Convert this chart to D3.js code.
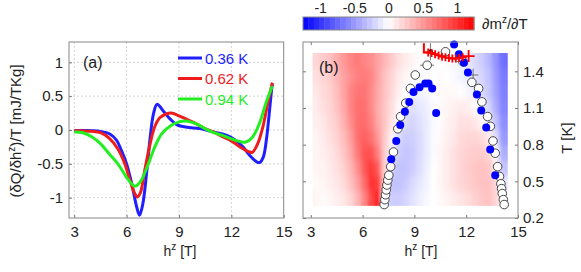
<!DOCTYPE html>
<html lang="en">
<head>
  <meta charset="UTF-8" />
  <title>Magnetocaloric panels</title>
  <script src="https://d3js.org/d3.v7.min.js"></script>
  <style>
    body { margin: 0; background: #fff; }
    text { font-family: "Liberation Sans", Arial, sans-serif; fill: #222; }
    .tick line { stroke: #777; }
    .domain { display: none; }
    .grid { stroke: #d4d4d4; stroke-dasharray: 2,2; stroke-width: 1; }
    .frame { fill: none; stroke: #888; stroke-width: 1; }
  </style>
</head>
<body>
  <svg id="chart" width="581" height="272"></svg>

  <script>
    // ---- panel (a): field derivative of heat, three temperatures ----
    const hTicks = [3, 6, 9, 12, 15];
    const qTicks = [-1, -0.5, 0, 0.5, 1];
    const curveLabels = ["0.36 K", "0.62 K", "0.94 K"];
    const curveColors = ["#1f1fff", "#ee1c1c", "#22ee22"];

    const blue036 = [[3,-0.01],[4,-0.01],[4.5,-0.02],[5.04,-0.06],[5.42,-0.15],[5.7,-0.3],[6.0,-0.5],[6.3,-0.8],
      [6.58,-1.14],[6.74,-1.26],[6.93,-1.09],[7.16,-0.6],[7.35,-0.11],[7.54,0.24],[7.75,0.38],[8.1,0.28],[8.5,0.16],
      [8.87,0.08],[9.45,0.04],[10.2,0.02],[10.97,-0.03],[11.74,-0.08],[12.3,-0.16],[12.7,-0.26],[13.07,-0.38],
      [13.45,-0.47],[13.62,-0.48],[13.83,-0.4],[14.0,-0.16],[14.17,0.24],[14.3,0.58],[14.35,0.68]];
    const red062 = [[3,-0.01],[4,-0.02],[4.5,-0.04],[5,-0.12],[5.5,-0.28],[5.9,-0.5],[6.2,-0.75],[6.45,-0.93],
      [6.62,-0.99],[6.8,-0.92],[7.0,-0.65],[7.3,-0.26],[7.6,0.04],[7.9,0.18],[8.3,0.24],[8.55,0.25],[9,0.21],
      [9.5,0.15],[10,0.09],[10.5,0.02],[11,-0.03],[11.5,-0.1],[12,-0.16],[12.5,-0.25],[13,-0.32],[13.2,-0.33],
      [13.5,-0.21],[13.8,0.04],[14.1,0.41],[14.35,0.7]];
    const green094 = [[3,-0.03],[3.5,-0.04],[4,-0.1],[4.5,-0.2],[5,-0.35],[5.5,-0.5],[6,-0.7],[6.3,-0.8],
      [6.5,-0.83],[6.8,-0.76],[7.2,-0.53],[7.6,-0.26],[8,-0.06],[8.5,0.06],[9,0.12],[9.5,0.13],[10,0.09],
      [10.5,0.02],[11,-0.04],[11.5,-0.08],[12,-0.13],[12.5,-0.17],[12.8,-0.18],[13.2,-0.11],[13.6,0.09],
      [14,0.41],[14.35,0.65]];

    // ---- panel (b): dm/dT map with phase boundary points ----
    const tTicks = [0.2, 0.5, 0.8, 1.1, 1.4];
    const cbTicks = [-1, -0.5, 0, 0.5, 1];
    const hBins = [3.1,3.5,3.9,4.3,4.7,5.1,5.5,5.9,6.3,6.7,7.1,7.5,7.9,8.3,8.7,9.1,9.5,9.9,10.3,10.7,11.1,11.5,11.9,12.3,12.7,13.1,13.5,13.9,14.4];
    const tBins = [0.3,0.425,0.55,0.675,0.8,0.925,1.05,1.175,1.3,1.425,1.55];
    // rows from lowest T upward, one value per h bin
    const dmdT = [
      [0.05,0.02,0.04,0.08,0.12,0.2,0.35,0.6,0.9,1.1,-0.1,-0.25,-0.25,-0.2,-0.14,-0.08,-0.04,0,0.03,0.06,0.1,0.13,0.17,0.22,0.27,0.3,0.22,0.0],
      [0.03,0.05,0.08,0.12,0.18,0.3,0.45,0.72,1.0,0.95,0.25,-0.3,-0.3,-0.26,-0.18,-0.12,-0.06,0,0.05,0.1,0.15,0.2,0.23,0.27,0.3,0.3,0.2,-0.12],
      [0.05,0.06,0.1,0.15,0.22,0.35,0.55,0.82,0.98,0.8,0.2,-0.22,-0.3,-0.3,-0.24,-0.16,-0.08,0,0.05,0.1,0.15,0.2,0.25,0.28,0.3,0.28,0.12,-0.28],
      [0.05,0.08,0.12,0.18,0.28,0.42,0.65,0.85,0.85,0.62,0.22,-0.08,-0.25,-0.28,-0.26,-0.18,-0.1,-0.02,0.05,0.1,0.15,0.2,0.23,0.25,0.25,0.2,0.0,-0.4],
      [0.05,0.1,0.15,0.22,0.32,0.48,0.7,0.78,0.7,0.5,0.25,0.05,-0.18,-0.25,-0.23,-0.18,-0.1,-0.02,0.03,0.08,0.12,0.18,0.2,0.2,0.18,0.1,-0.15,-0.5],
      [0.08,0.12,0.18,0.25,0.38,0.55,0.7,0.72,0.62,0.42,0.28,0.12,-0.05,-0.18,-0.2,-0.15,-0.1,-0.03,0.02,0.06,0.1,0.15,0.15,0.12,0.05,-0.08,-0.3,-0.55],
      [0.1,0.15,0.2,0.3,0.42,0.6,0.7,0.7,0.58,0.4,0.28,0.15,0.02,-0.1,-0.15,-0.12,-0.08,-0.02,0.02,0.05,0.08,0.1,0.08,0.02,-0.08,-0.2,-0.4,-0.6],
      [0.12,0.18,0.22,0.32,0.45,0.6,0.68,0.68,0.58,0.42,0.3,0.18,0.08,0,-0.06,-0.06,-0.04,0,0.02,0.03,0.03,0,-0.05,-0.1,-0.18,-0.28,-0.45,-0.62],
      [0.15,0.2,0.25,0.35,0.45,0.55,0.62,0.65,0.6,0.45,0.3,0.2,0.1,0.05,0,-0.02,-0.03,0,0.02,0,-0.03,-0.06,-0.1,-0.15,-0.2,-0.3,-0.48,-0.65],
      [0.2,0.25,0.3,0.4,0.5,0.6,0.65,0.6,0.55,0.45,0.35,0.25,0.15,0.1,0.05,0.02,0,0,0,-0.02,-0.05,-0.08,-0.12,-0.18,-0.25,-0.35,-0.52,-0.7]
    ];

    const openPts = [[7.25,0.31],[7.29,0.35],[7.33,0.39],[7.37,0.43],[7.41,0.47],[7.46,0.51],[7.52,0.55],
      [7.63,0.62],[7.79,0.74],[8.04,0.93],[8.2,1.03],[8.5,1.14],[8.77,1.26],[9.05,1.37],[9.74,1.45],[10.8,1.56],
      [11.81,1.48],[12.33,1.31],[12.72,1.26],[12.91,1.15],[13.24,1.03],[13.4,0.95],[13.55,0.83],[13.68,0.73],
      [13.82,0.62],[13.93,0.54],[14.01,0.48],[14.05,0.44],[14.09,0.4],[14.15,0.35],[14.2,0.31]];
    const bluePts = [[7.66,0.68],[7.95,0.83],[8.18,0.96],[8.45,1.07],[8.7,1.15],[8.95,1.23],[9.3,1.27],
      [9.63,1.3],[9.82,1.3],[10.03,1.26],[10.26,1.06],[11.3,1.62],[11.58,1.54],[11.87,1.47],[12.1,1.39],
      [12.62,1.21],[12.87,1.08],[13.16,0.94],[13.39,0.76],[13.68,0.55]];
    const redPlus = [[9.8,1.555],[10.0,1.55],[10.2,1.54],[10.4,1.53],[10.6,1.52],[10.8,1.515],[11.0,1.51],
      [11.2,1.505],[11.4,1.505],[11.6,1.51],[11.8,1.515],[12.14,1.525]];
    const redCorner = [[9.55,1.63],[9.55,1.555],[10.0,1.555]];
    const errBars = [[9.74,1.45,0.4,0],[9.93,1.56,0,0.07],[11.81,1.48,0.35,0.04],[12.4,1.37,0.3,0.05]];

    const svg = d3.select("#chart");
    const sup = (sel, base, s, rest) => {
      sel.text(base);
      sel.append("tspan").attr("dy", -6).attr("font-size", "10px").text(s);
      sel.append("tspan").attr("dy", 6).text(rest);
    };

    // ================= panel (a) =================
    const xA = d3.scaleLinear().domain([2.7, 15]).range([69, 283.7]);
    const yA = d3.scaleLinear().domain([-1.3, 1.3]).range([218, 42]);
    const gA = svg.append("g");

    gA.selectAll(".gx").data(hTicks.slice(0, -1)).enter().append("line")
      .attr("class", "grid")
      .attr("x1", d => xA(d)).attr("x2", d => xA(d))
      .attr("y1", yA.range()[1]).attr("y2", yA.range()[0]);
    gA.selectAll(".gy").data(qTicks).enter().append("line")
      .attr("class", "grid")
      .attr("x1", xA.range()[0]).attr("x2", xA.range()[1])
      .attr("y1", d => yA(d)).attr("y2", d => yA(d));

    gA.append("g").attr("transform", "translate(0,218)")
      .call(d3.axisBottom(xA).tickValues(hTicks).tickSize(-3).tickPadding(8).tickFormat(d => String(d)))
      .call(g => g.selectAll("text").attr("font-size", "15px"));
    gA.append("g").attr("transform", "translate(69,0)")
      .call(d3.axisLeft(yA).tickValues(qTicks).tickSize(-3).tickPadding(6).tickFormat(d => String(d)))
      .call(g => g.selectAll("text").attr("font-size", "15px"));

    const line = d3.line().x(d => xA(d[0])).y(d => yA(d[1])).curve(d3.curveCatmullRom.alpha(0.5));
    [blue036, red062, green094].forEach((c, i) => {
      gA.append("path").datum(c)
        .attr("fill", "none").attr("stroke", curveColors[i])
        .attr("stroke-width", 3).attr("stroke-linejoin", "round")
        .attr("d", line);
    });

    gA.append("rect").attr("class", "frame")
      .attr("x", 69).attr("y", 42).attr("width", 214.7).attr("height", 176);

    const leg = gA.selectAll(".leg").data(curveLabels).enter().append("g")
      .attr("transform", (d, i) => `translate(178,${58 + i * 20.5})`);
    leg.append("line").attr("x1", 0).attr("x2", 24)
      .attr("stroke", (d, i) => curveColors[i]).attr("stroke-width", 3);
    leg.append("text").attr("x", 27).attr("y", 5.5).attr("font-size", "15px")
      .style("fill", (d, i) => curveColors[i]).text(d => d);

    gA.append("text").attr("x", 83).attr("y", 68).attr("font-size", "16px").text("(a)");
    gA.append("text").attr("x", 180).attr("y", 256).attr("text-anchor", "middle")
      .attr("font-size", "14px").call(sup, "h", "z", " [T]");
    gA.append("text").attr("transform", "translate(21,131) rotate(-90)")
      .attr("text-anchor", "middle").attr("font-size", "15px")
      .call(sup, "(δQ/δh", "z", ")/T [mJ/TKg]");

    // ================= panel (b) =================
    const xB = d3.scaleLinear().domain([2.55, 15]).range([303, 518]);
    const yB = d3.scaleLinear().domain([0.2, 1.64]).range([218, 42]);
    const color = d3.scaleLinear().domain([-1.25, 0, 1.25])
      .range(["#0000ff", "#ffffff", "#ff0000"]).clamp(true);
    const gB = svg.append("g");

    const defs = svg.append("defs");
    defs.append("clipPath").attr("id", "mapClip").append("rect")
      .attr("x", xB(hBins[0])).attr("y", yB(tBins[tBins.length - 1]))
      .attr("width", xB(hBins[hBins.length - 1]) - xB(hBins[0]))
      .attr("height", yB(tBins[0]) - yB(tBins[tBins.length - 1]));
    defs.append("filter").attr("id", "soft").attr("x", "-10%").attr("y", "-10%")
      .attr("width", "120%").attr("height", "120%")
      .append("feGaussianBlur").attr("stdDeviation", "2 3.5");

    const cells = [];
    dmdT.forEach((row, j) => row.forEach((v, i) => cells.push({ i, j, v })));

    const drawCells = g => g.selectAll("rect").data(cells).enter().append("rect")
      .attr("x", d => xB(hBins[d.i]))
      .attr("y", d => yB(tBins[d.j + 1]))
      .attr("width", d => xB(hBins[d.i + 1]) - xB(hBins[d.i]) + 0.5)
      .attr("height", d => yB(tBins[d.j]) - yB(tBins[d.j + 1]) + 0.5)
      .attr("fill", d => color(d.v));

    const mapG = gB.append("g").attr("clip-path", "url(#mapClip)");
    mapG.append("g").call(drawCells);
    mapG.append("g").attr("filter", "url(#soft)").call(drawCells);

    gB.append("g").attr("transform", "translate(0,218)")
      .call(d3.axisBottom(xB).tickValues(hTicks).tickSize(-3).tickPadding(8).tickFormat(d => String(d)))
      .call(g => g.selectAll("text").attr("font-size", "15px"));
    gB.append("g").attr("transform", "translate(0,42)")
      .call(d3.axisTop(xB).tickValues(hTicks).tickSize(-3).tickFormat(""));
    gB.append("g").attr("transform", "translate(518,0)")
      .call(d3.axisRight(yB).tickValues(tTicks).tickSize(-3).tickPadding(5).tickFormat(d => String(d)))
      .call(g => g.selectAll("text").attr("font-size", "15px"));
    gB.append("g").attr("transform", "translate(303,0)")
      .call(d3.axisLeft(yB).tickValues(tTicks).tickSize(-3).tickFormat(""));

    gB.selectAll(".err").data(errBars).enter().append("path")
      .attr("fill", "none").attr("stroke", "#555").attr("stroke-width", 0.8)
      .attr("d", d => `M${xB(d[0] - d[2])},${yB(d[1])}H${xB(d[0] + d[2])}` +
                      `M${xB(d[0])},${yB(d[1] - d[3])}V${yB(d[1] + d[3])}`);

    gB.selectAll(".open").data(openPts).enter().append("circle")
      .attr("cx", d => xB(d[0])).attr("cy", d => yB(d[1])).attr("r", 4.3)
      .attr("fill", "#fff").attr("stroke", "#333").attr("stroke-width", 0.9);
    gB.selectAll(".bdot").data(bluePts).enter().append("circle")
      .attr("cx", d => xB(d[0])).attr("cy", d => yB(d[1])).attr("r", 4)
      .attr("fill", "#0000ff");

    gB.append("circle").attr("cx", xB(9.93)).attr("cy", yB(1.56)).attr("r", 2.5).attr("fill", "#111");
    gB.append("path").datum(redCorner)
      .attr("fill", "none").attr("stroke", "#ff0000").attr("stroke-width", 2)
      .attr("d", d3.line().x(d => xB(d[0])).y(d => yB(d[1])));
    gB.selectAll(".rplus").data(redPlus).enter().append("path")
      .attr("fill", "none").attr("stroke", "#ff0000").attr("stroke-width", 1.8)
      .attr("d", (d, i) => {
        const s = i === redPlus.length - 1 ? 6 : 4;
        const x = xB(d[0]), y = yB(d[1]);
        return `M${x - s},${y}H${x + s}M${x},${y - s}V${y + s}`;
      });

    gB.append("rect").attr("class", "frame")
      .attr("x", 303).attr("y", 42).attr("width", 215).attr("height", 176);

    gB.append("text").attr("x", 319).attr("y", 73).attr("font-size", "16px").text("(b)");
    gB.append("text").attr("x", 421).attr("y", 256).attr("text-anchor", "middle")
      .attr("font-size", "14px").call(sup, "h", "z", " [T]");
    gB.append("text").attr("transform", "translate(572,138) rotate(-90)")
      .attr("text-anchor", "middle").attr("font-size", "15px").text("T [K]");

    // colour bar
    const xC = d3.scaleLinear().domain([-1.25, 1.25]).range([303, 474]);
    const steps = d3.range(32);
    const stepW = (xC.range()[1] - xC.range()[0]) / steps.length;
    gB.selectAll(".cb").data(steps).enter().append("rect")
      .attr("x", d => xC.range()[0] + d * stepW).attr("y", 17)
      .attr("width", stepW + 0.4).attr("height", 13)
      .attr("fill", d => color(xC.invert(xC.range()[0] + (d + 0.5) * stepW)));
    gB.append("rect").attr("class", "frame")
      .attr("x", 303).attr("y", 17).attr("width", 171).attr("height", 13);
    gB.append("g").attr("transform", "translate(0,17)")
      .call(d3.axisTop(xC).tickValues(cbTicks).tickSize(0).tickPadding(4).tickFormat(d => String(d)))
      .call(g => g.selectAll("text").attr("font-size", "14px"));
    gB.append("text").attr("x", 482).attr("y", 29).attr("font-size", "15px")
      .call(sup, "∂m", "z", "/∂T");
  </script>
</body>
</html>
